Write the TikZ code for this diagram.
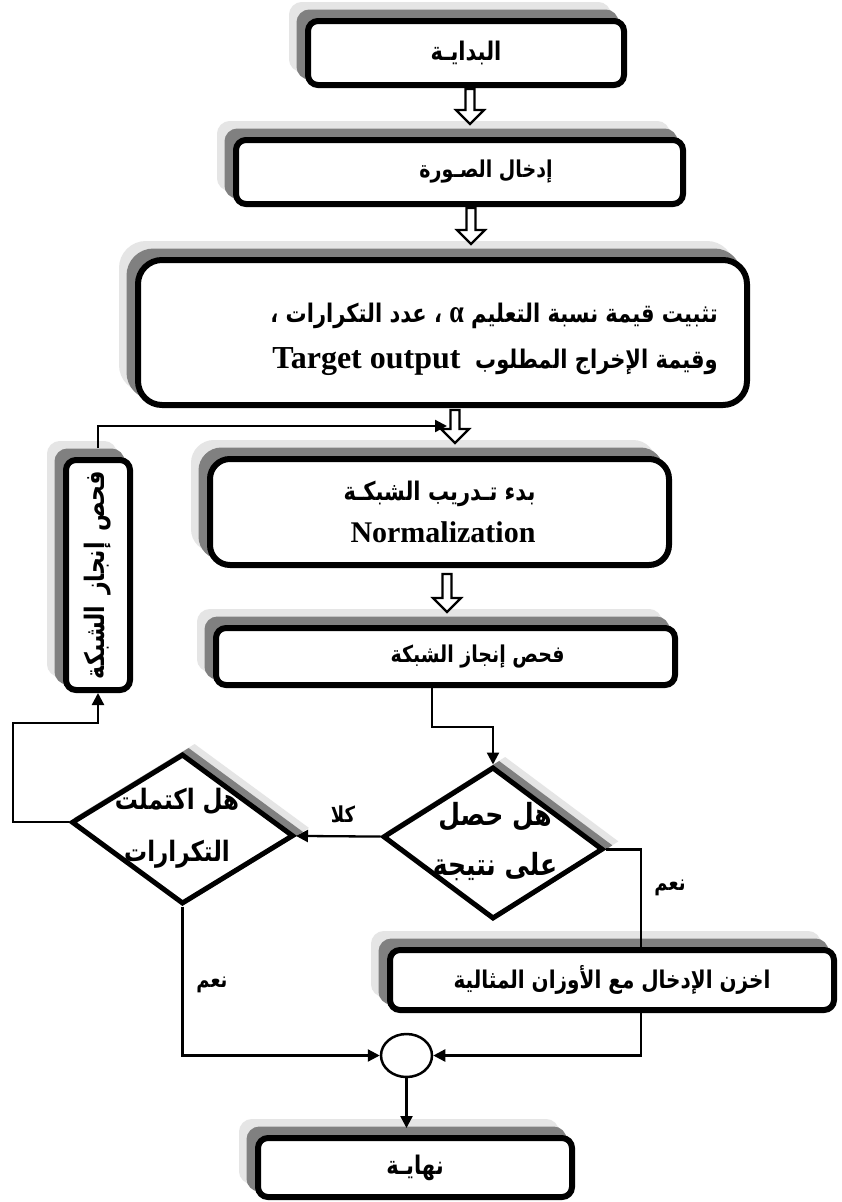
\documentclass[tikz,border=0pt]{standalone}
\usepackage{fontspec}
\usepackage{graphicx}
\usetikzlibrary{shapes.geometric,arrows.meta,calc}
\TeXXeTstate=1
\newfontfamily\arfont[Script=Arabic]{DejaVu Sans}
\newfontfamily\latinfont{Liberation Serif}
\definecolor{shadedark}{gray}{0.5}
\definecolor{shadelight}{gray}{0.9}

% right-to-left run, set a little taller than the font's own proportions
\newcommand\ar[1]{\scalebox{1}[1.22]{\beginR #1\endR}}
% bold Arabic at a given size
\newcommand\arf[2]{\arfont\bfseries\fontsize{#1}{#2}\selectfont}
% bold Latin at a given size
\newcommand\latf[1]{\latinfont\bfseries\fontsize{#1}{#1}\selectfont}

% hollow block arrow between two stacked boxes
% #1 = x (pt), #2 = upper node, #3 = lower node, #4 = gap below the upper node
\newcommand\blockarrow[4]{%
  \draw[hollow] let \p1=(#2.south), \p2=(#3.north) in
    ({#1pt-4.5pt},{\y1-#4pt}) -- ({#1pt-4.5pt},{\y2+27pt}) -- ({#1pt-14pt},{\y2+27pt})
    -- ({#1pt},{\y2+13pt}) -- ({#1pt+14pt},{\y2+27pt}) -- ({#1pt+4.5pt},{\y2+27pt})
    -- ({#1pt+4.5pt},{\y1-#4pt}) -- cycle;}

\tikzset{
  boxshadow/.style={
    preaction={fill=shadelight, draw=shadelight, transform canvas={shift={(-16pt,16pt)}}},
    preaction={fill=shadedark, draw=shadedark, transform canvas={shift={(-8.5pt,8.5pt)}}}},
  stepbox/.style={draw, fill=white, line width=6pt, rounded corners=10pt,
    inner sep=0pt, boxshadow},
  decision/.style={diamond, draw, fill=white, line width=5pt, inner sep=0pt, transform shape,
    preaction={fill=shadelight, draw=shadelight, transform canvas={shift={(12pt,8pt)}}},
    preaction={fill=shadedark, draw=shadedark, transform canvas={shift={(6pt,4pt)}}}},
  txt/.style={inner sep=0pt, align=center},
  conn/.style={line width=2.3pt, -{Triangle[length=12pt,width=12pt]}},
  plain/.style={line width=2.3pt},
  hollow/.style={line width=2.2pt, fill=white, line join=miter},
}

\begin{document}
\begin{tikzpicture}[x=1pt, y=-1pt]
\useasboundingbox (0,0) rectangle (841,1202);
\fill[white] (0,0) rectangle (841,1202);

% ---------- process boxes ----------
\node[stepbox, minimum width=316pt, minimum height=64pt, font=\arf{21}{25}]
  (start) at (466,53) {\ar{البدايـة}};
\node[stepbox, minimum width=447pt, minimum height=64pt, font=\arf{19}{23}]
  (input) at (459.5,172) {\ar{إدخال الصـورة\hspace{53pt}}};
\node[stepbox, rounded corners=24pt, minimum width=609pt, minimum height=145pt]
  (params) at (442.5,332.5) {};
\node[txt, anchor=east, align=right, font=\arf{21}{46}] (paramtext) at (718,339)
  {\ar{تثبيت قيمة نسبة التعليم {\latf{26}α} ، عدد التكرارات ،}\\
   {\latf{32}Target output}\ \ \ar{وقيمة الإخراج المطلوب}};
\node[stepbox, rounded corners=20pt, minimum width=459pt, minimum height=106pt,
  align=right, font=\arf{21}{42}] (train) at (439.5,512)
  {\ar{بدء تـدريب الشبكـة}\\{\latf{30}Normalization}};
\node[stepbox, minimum width=459pt, minimum height=57pt, font=\arf{19}{23}]
  (check) at (445.5,656.5) {\ar{فحص إنجاز الشبكة\hspace{64pt}}};
\node[stepbox, minimum width=64pt, minimum height=230pt, font=\arf{22}{26}]
  (side) at (98,575) {\rotatebox{90}{\ar{فحص\enspace إنجاز\enspace الشبكة}}};
\node[stepbox, minimum width=444pt, minimum height=60pt, font=\arf{20}{24}]
  (store) at (612,980) {\ar{اخزن الإدخال مع الأوزان المثالية}};
\node[stepbox, minimum width=314pt, minimum height=59pt, font=\arf{21}{25}]
  (finish) at (415,1167.5) {\ar{نهايـة}};

% ---------- decisions ----------
\begin{scope}[shift={(493,843)}, yslant=-0.057]
  \node[decision, minimum width=220pt, minimum height=152pt] (d1) at (0,0) {};
\end{scope}
\node[txt, font=\arf{25}{50}] (d1text) at (495,842) {\ar{هل حصل}\\\ar{على نتيجة}};
\begin{scope}[shift={(182.5,829)}, yslant=-0.061]
  \node[decision, minimum width=222pt, minimum height=150pt] (d2) at (0,0) {};
\end{scope}
\node[txt, font=\arf{23}{52}] (d2text) at (177,828) {\ar{هل اكتملت}\\\ar{التكرارات}};

% ---------- junction ----------
\node[ellipse, draw, fill=white, line width=2.5pt, minimum width=51pt, minimum height=43pt,
  inner sep=0pt] (circ) at (406.5,1055.5) {};

% ---------- block arrows ----------
\blockarrow{470}{start}{input}{1}
\blockarrow{471}{input}{params}{1}
\blockarrow{455}{params}{train}{2}
\blockarrow{447}{train}{check}{6}

% ---------- connectors ----------
\coordinate (loopin) at (447,426);
\coordinate (bendA) at (13,723);
\coordinate (bendB) at (432,727);
\coordinate (rx) at (641,0);

\draw[conn] ([yshift=9pt]side.north) |- (loopin);
\draw[conn] (d2.west) -| (bendA) -| (side.south);
\draw[conn] (check.south -| bendB) -- (bendB) -| (d1.north);
\draw[conn] (d1.west) -- (d2.east);
\draw[plain] (d1.east) -| (store.north -| rx);
\draw[conn] (store.south -| rx) |- (circ.east);
\draw[conn] (d2.south) |- (circ.west);
\draw[conn] (circ.south) -- ([yshift=7pt]circ.south |- finish.north);

% ---------- branch labels ----------
\node[txt, font=\arf{18}{22}] (no) at (343,814) {\ar{كلا}};
\node[txt, font=\arf{18}{22}] (yes1) at (670,888) {\ar{نعم}};
\node[txt, font=\arf{18}{22}] (yes2) at (212,985) {\ar{نعم}};
\end{tikzpicture}
\end{document}
